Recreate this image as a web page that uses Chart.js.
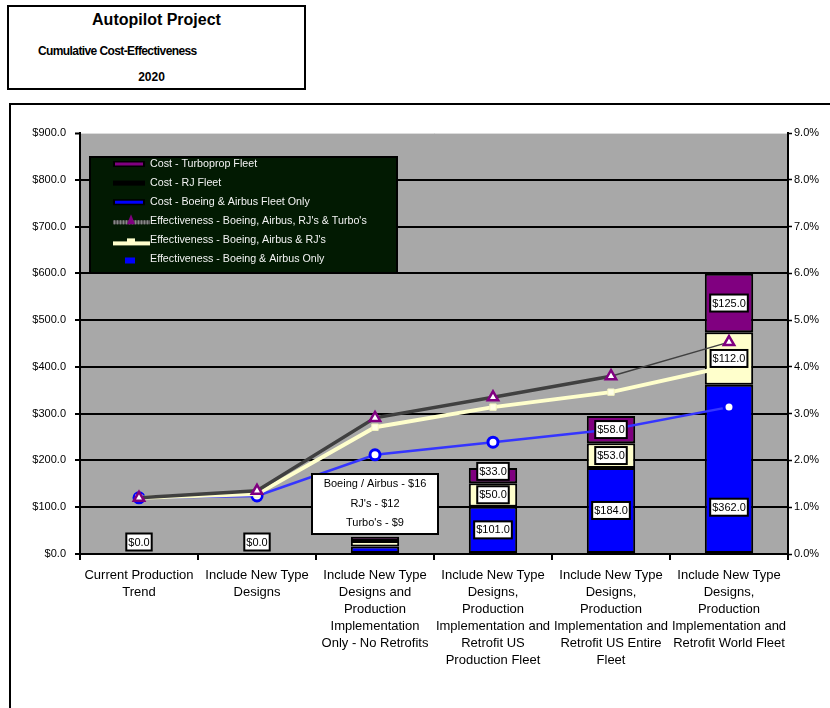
<!DOCTYPE html>
<html>
<head>
<meta charset="utf-8">
<script src="https://cdn.jsdelivr.net/npm/chart.js@4.4.0/dist/chart.umd.min.js"></script>
<style>
  body { margin: 0; background: #fff; font-family: "Liberation Sans", Arial, sans-serif; }
  #wrap { position: relative; width: 830px; height: 708px; }
  #chart { position: absolute; left: 0; top: 0; }
  #titlebox { position: absolute; left: 7px; top: 5px; width: 299px; height: 85px; box-sizing: border-box;
              border: 2px solid #000; background: #fff; }
  .t { position: absolute; color: #000; white-space: nowrap; line-height: 1; }
  #t1 { left: 0; width: 295px; top: 5px; text-align: center; font-size: 16px; font-weight: bold; }
  #t2 { left: 29px; top: 38px; font-size: 12px; font-weight: bold; letter-spacing: -0.6px; }
  #t3 { left: 0; width: 285px; top: 64px; text-align: center; font-size: 12px; font-weight: bold; }
</style>
</head>
<body>
<div id="wrap">
  <canvas id="chart" width="830" height="708"></canvas>
  <div id="titlebox">
    <div class="t" id="t1">Autopilot Project</div>
    <div class="t" id="t2">Cumulative Cost-Effectiveness</div>
    <div class="t" id="t3">2020</div>
  </div>
</div>
<script>
var categories = [
  ["Current Production", "Trend"],
  ["Include New Type", "Designs"],
  ["Include New Type", "Designs and", "Production", "Implementation", "Only - No Retrofits"],
  ["Include New Type", "Designs,", "Production", "Implementation and", "Retrofit US", "Production Fleet"],
  ["Include New Type", "Designs,", "Production", "Implementation and", "Retrofit US Entire", "Fleet"],
  ["Include New Type", "Designs,", "Production", "Implementation and", "Retrofit World Fleet"]
];

// cost in $ (stacked bars, left axis)
var costBoeing = [0, 0, 16, 101, 184, 362];
var costRJ     = [0, 0, 12, 50, 53, 112];
var costTurbo  = [0, 0, 9, 33, 58, 125];

// effectiveness in % (lines, right axis)
var effAll    = [1.20, 1.35, 2.91, 3.35, 3.80, 4.53];
var effRJ     = [1.20, 1.28, 2.71, 3.14, 3.46, 4.02];
var effBoeing = [1.20, 1.24, 2.12, 2.39, 2.66, 3.14];

var costTicks = [0, 100, 200, 300, 400, 500, 600, 700, 800, 900];
var pctTicks  = [0, 1, 2, 3, 4, 5, 6, 7, 8, 9];

var FONT = '"Liberation Sans", Arial, sans-serif';
Chart.defaults.font.family = FONT;
Chart.defaults.color = '#000';

// white page, outer frame and grey plot area
var framePlugin = {
  id: 'frame',
  beforeDraw: function(chart) {
    var c = chart.ctx, a = chart.chartArea;
    c.save();
    c.fillStyle = '#fff';
    c.fillRect(0, 0, chart.width, chart.height);
    c.strokeStyle = '#000';
    c.lineWidth = 2;
    c.strokeRect(10, 104, chart.width + 20, chart.height + 20);
    c.fillStyle = '#a8a8a8';
    c.fillRect(a.left, a.top, a.right - a.left, a.bottom - a.top);
    c.restore();
  }
};

// boxed $ labels on bar segments + note box for the third category
var valueLabels = {
  id: 'valueLabels',
  afterDatasetsDraw: function(chart, args, opts) {
    var c = chart.ctx;
    var ys = chart.scales.y;
    c.save();
    c.font = '11px ' + FONT;
    c.textAlign = 'center';
    c.textBaseline = 'middle';
    [0, 1, 2].forEach(function(di) {
      var meta = chart.getDatasetMeta(di);
      meta.data.forEach(function(bar, i) {
        if (i === opts.noteIndex) return;
        var v = chart.data.datasets[di].data[i];
        if (v === 0 && di !== 0) return;
        var p = bar.getProps(['x', 'y', 'base'], true);
        var y = Math.min((p.y + p.base) / 2, p.base - 12);
        var key = di + ':' + i;
        if (opts.at[key] !== undefined) y = ys.getPixelForValue(opts.at[key]);
        var txt = '$' + v.toFixed(1);
        var w = c.measureText(txt).width + 4, h = 17;
        c.fillStyle = '#fff';
        c.fillRect(p.x - w / 2, y - h / 2, w, h);
        c.lineWidth = 2;
        c.strokeStyle = '#000';
        c.strokeRect(p.x - w / 2, y - h / 2, w, h);
        c.fillStyle = '#000';
        c.fillText(txt, p.x, y + 0.5);
      });
    });

    // note box
    var n = opts.noteIndex;
    var cx = chart.scales.x.getPixelForValue(n);
    var top = ys.getPixelForValue(171);
    var lines = [
      'Boeing / Airbus - $' + costBoeing[n],
      "RJ's - $" + costRJ[n],
      "Turbo's - $" + costTurbo[n]
    ];
    var bw = 126, bh = 60;
    c.fillStyle = '#fff';
    c.fillRect(cx - bw / 2, top, bw, bh);
    c.lineWidth = 2;
    c.strokeStyle = '#000';
    c.strokeRect(cx - bw / 2, top, bw, bh);
    c.fillStyle = '#000';
    lines.forEach(function(t, k) {
      c.fillText(t, cx, top + 10 + k * 19.5);
    });
    c.restore();
  }
};

// legend box drawn inside the plot
var boxLegend = {
  id: 'boxLegend',
  afterDraw: function(chart) {
    var c = chart.ctx;
    var ds = chart.data.datasets;
    var order = [2, 1, 0, 3, 4, 5];
    c.save();
    c.fillStyle = '#021a02';
    c.fillRect(90, 157, 307, 116);
    c.lineWidth = 2;
    c.strokeStyle = '#000';
    c.strokeRect(90, 157, 307, 116);
    c.font = '10.7px ' + FONT;
    c.textAlign = 'left';
    c.textBaseline = 'middle';
    order.forEach(function(di, k) {
      var y = 164 + k * 19.1;
      if (di === 2) {
        c.fillStyle = '#000'; c.fillRect(113, y - 3, 32, 6);
        c.fillStyle = '#800080'; c.fillRect(115, y - 1.5, 28, 3);
      } else if (di === 1) {
        c.fillStyle = '#000'; c.fillRect(113, y - 2.5, 32, 5);
      } else if (di === 0) {
        c.fillStyle = '#000'; c.fillRect(113, y - 3, 32, 6);
        c.fillStyle = '#0000ff'; c.fillRect(115, y - 1.5, 28, 3);
      } else if (di === 3) {
        c.fillStyle = '#555'; c.fillRect(113, y - 1, 37, 4);
        c.fillStyle = '#888';
        for (var x = 114; x < 150; x += 3) c.fillRect(x, y - 1, 1, 4);
        c.fillStyle = '#800080';
        c.beginPath();
        c.moveTo(131, y - 7); c.lineTo(135, y + 3); c.lineTo(127, y + 3);
        c.closePath(); c.fill();
      } else if (di === 4) {
        c.fillStyle = '#ffffcc';
        c.fillRect(113, y + 1, 37, 4);
        c.fillRect(127, y - 2, 8, 4);
      } else {
        c.fillStyle = '#0000ff';
        c.fillRect(125, y - 2, 10, 6);
      }
      c.fillStyle = '#f2f2f2';
      c.fillText(ds[di].label, 150, y);
    });
    c.restore();
  }
};

var ctx = document.getElementById('chart').getContext('2d');
window.costChart = new Chart(ctx, {
  type: 'bar',
  data: {
    labels: categories,
    datasets: [{
      label: 'Cost - Boeing & Airbus Fleet Only',
      data: costBoeing,
      backgroundColor: '#0000ff',
      borderColor: '#000',
      borderWidth: 2,
      borderSkipped: false,
      order: 1
    }, {
      label: 'Cost - RJ Fleet',
      data: costRJ,
      backgroundColor: '#ffffcc',
      borderColor: '#000',
      borderWidth: 2,
      borderSkipped: false,
      order: 1
    }, {
      label: 'Cost - Turboprop Fleet',
      data: costTurbo,
      backgroundColor: '#800080',
      borderColor: '#000',
      borderWidth: 2,
      borderSkipped: false,
      order: 1
    }, {
      type: 'line',
      label: "Effectiveness - Boeing, Airbus, RJ's & Turbo's",
      data: effAll,
      yAxisID: 'y2',
      borderColor: '#404040',
      borderWidth: 3.5,
      segment: {
        borderWidth: function(s) { return s.p0DataIndex === 4 ? 1.5 : undefined; }
      },
      pointStyle: 'triangle',
      pointRadius: 6,
      pointBorderColor: '#800080',
      pointBorderWidth: 2.5,
      pointBackgroundColor: '#fff',
      tension: 0,
      order: 0
    }, {
      type: 'line',
      label: "Effectiveness - Boeing, Airbus & RJ's",
      data: effRJ,
      yAxisID: 'y2',
      borderColor: '#ffffcc',
      borderWidth: 4,
      pointStyle: 'rect',
      pointRadius: 4.5,
      pointBorderColor: '#f4f4c0',
      pointBorderWidth: 1,
      pointBackgroundColor: '#ffffe6',
      tension: 0,
      order: 0
    }, {
      type: 'line',
      label: 'Effectiveness - Boeing & Airbus Only',
      data: effBoeing,
      yAxisID: 'y2',
      borderColor: '#3535ff',
      borderWidth: 2.5,
      pointStyle: 'circle',
      pointRadius: 5,
      pointBorderColor: '#0000ff',
      pointBorderWidth: 3,
      pointBackgroundColor: '#fff',
      tension: 0,
      order: 0
    }]
  },
  options: {
    responsive: false,
    animation: false,
    barPercentage: 0.41,
    categoryPercentage: 1,
    layout: { padding: { top: 133, left: 0, right: 0, bottom: 0 } },
    plugins: {
      legend: { display: false },
      tooltip: { enabled: false },
      valueLabels: { noteIndex: 2, at: { '0:5': 100 } }
    },
    scales: {
      x: {
        stacked: true,
        grid: { offset: true, drawOnChartArea: false, tickLength: 6, color: '#000', lineWidth: 2 },
        border: { color: '#000', width: 2 },
        ticks: {
          color: '#000', padding: 7, maxRotation: 0, minRotation: 0, autoSkip: false,
          font: { size: 13, lineHeight: 1.3 }
        },
        afterFit: function(s) { s.height = 154; }
      },
      y: {
        position: 'left',
        stacked: true,
        min: 0,
        max: 900,
        afterBuildTicks: function(s) { s.ticks = costTicks.map(function(v) { return { value: v }; }); },
        ticks: {
          color: '#000', padding: 9, font: { size: 11 },
          callback: function(v) { return '$' + Number(v).toFixed(1); }
        },
        grid: {
          color: function(c) {
            if (!c.tick) return '#000';
            if (c.tick.value === 0) return 'rgba(0,0,0,0)';
            if (c.tick.value === 900) return '#dcdcdc';
            return '#000';
          },
          lineWidth: function(c) { return c.tick && c.tick.value === 900 ? 1 : 2; },
          tickColor: '#000',
          tickLength: 5,
          tickWidth: 2
        },
        border: { color: '#000', width: 2 },
        afterFit: function(s) { s.width = 80; }
      },
      y2: {
        position: 'right',
        min: 0,
        max: 9,
        afterBuildTicks: function(s) { s.ticks = pctTicks.map(function(v) { return { value: v }; }); },
        ticks: {
          color: '#000', padding: 2, font: { size: 11 },
          callback: function(v) { return Number(v).toFixed(1) + '%'; }
        },
        grid: { drawOnChartArea: false, tickLength: 4, tickColor: '#000', tickWidth: 1.5 },
        border: { color: '#000', width: 2 },
        afterFit: function(s) { s.width = 42; }
      }
    }
  },
  plugins: [framePlugin, valueLabels, boxLegend]
});
</script>
</body>
</html>
